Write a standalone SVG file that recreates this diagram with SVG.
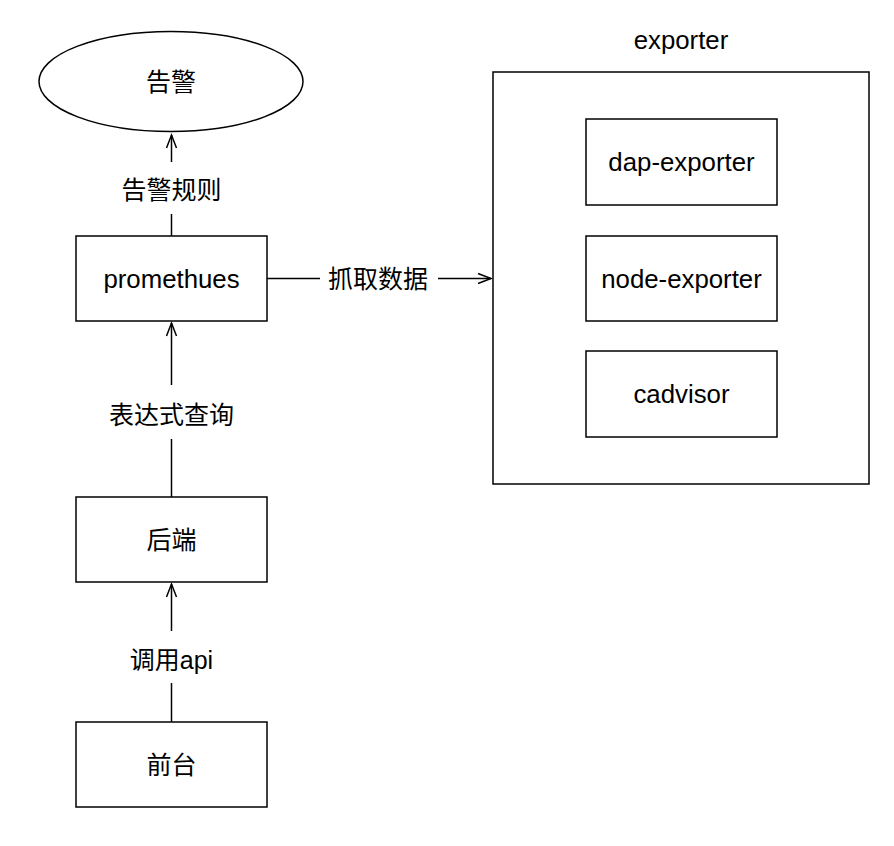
<svg xmlns="http://www.w3.org/2000/svg" width="894" height="846" viewBox="0 0 894 846">
<style>
.box{fill:#fff;stroke:#000;stroke-width:1.5}
.ln{fill:none;stroke:#000;stroke-width:1.5}
text{font-family:"Liberation Sans","Noto Sans CJK SC",sans-serif;font-size:25px;fill:#000;text-anchor:middle}
text.en{font-size:25.8px}
</style>
<defs>
<marker id="arr" markerUnits="userSpaceOnUse" markerWidth="20" markerHeight="16" viewBox="-14 -8 16 16" refX="0" refY="0" orient="auto">
<path d="M-13,-5 L0,0 L-13,5" fill="none" stroke="#000" stroke-width="1.5"/>
</marker>
</defs>
<rect width="894" height="846" fill="#fff"/>
<g id="connectors">
<line class="ln" x1="171.5" y1="236" x2="171.5" y2="214"/>
<line class="ln" x1="171.5" y1="162" x2="171.5" y2="135" marker-end="url(#arr)"/>
<text x="171.5" y="199">告警规则</text>
<line class="ln" x1="171.5" y1="497" x2="171.5" y2="439"/>
<line class="ln" x1="171.5" y1="385" x2="171.5" y2="323" marker-end="url(#arr)"/>
<text x="171.5" y="424">表达式查询</text>
<line class="ln" x1="171.5" y1="722" x2="171.5" y2="683"/>
<line class="ln" x1="171.5" y1="631" x2="171.5" y2="584" marker-end="url(#arr)"/>
<text x="171.5" y="669">调用api</text>
<line class="ln" x1="267" y1="278.5" x2="320" y2="278.5"/>
<line class="ln" x1="438" y1="278.5" x2="491" y2="278.5" marker-end="url(#arr)"/>
<text x="378" y="287.5">抓取数据</text>
</g>
<g id="alarm">
<ellipse class="box" cx="171" cy="81.5" rx="132" ry="50"/>
<text x="171" y="90.5">告警</text>
</g>
<g id="prometheus">
<rect class="box" x="76" y="236" width="191" height="85"/>
<text class="en" x="171.5" y="287.5">promethues</text>
</g>
<g id="backend">
<rect class="box" x="76" y="497" width="191" height="85"/>
<text x="171.5" y="548.5">后端</text>
</g>
<g id="frontend">
<rect class="box" x="76" y="722" width="191" height="85"/>
<text x="171.5" y="773.5">前台</text>
</g>
<g id="exporter">
<rect class="box" x="493" y="72" width="376" height="412"/>
<text class="en" x="681" y="49">exporter</text>
</g>
<g id="dap-exporter">
<rect class="box" x="586" y="119" width="191" height="86"/>
<text class="en" x="681.5" y="171">dap-exporter</text>
</g>
<g id="node-exporter">
<rect class="box" x="586" y="236" width="191" height="85"/>
<text class="en" x="681.5" y="287.5">node-exporter</text>
</g>
<g id="cadvisor">
<rect class="box" x="586" y="351" width="191" height="86"/>
<text class="en" x="681.5" y="403">cadvisor</text>
</g>
</svg>
